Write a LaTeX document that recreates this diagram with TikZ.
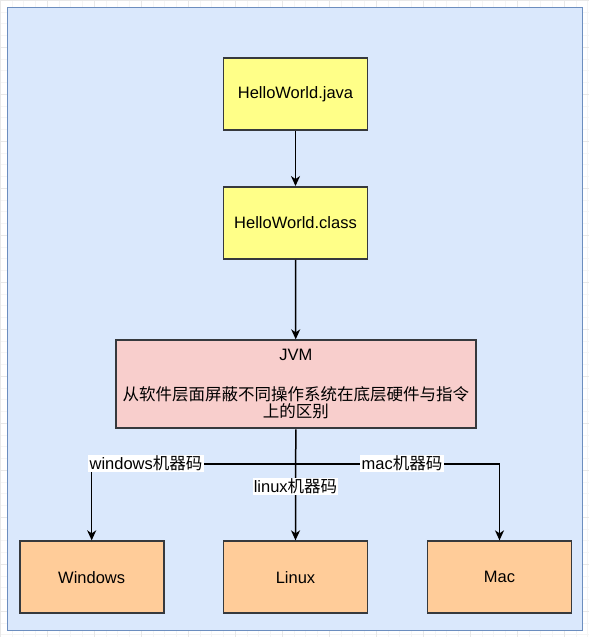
\documentclass[tikz,border=0pt]{standalone}
\usepackage{fontspec}
\setmainfont{Liberation Sans}
\newfontfamily\cjk{Noto Sans CJK SC}
\usetikzlibrary{arrows.meta}
\definecolor{contfill}{HTML}{DAE8FC}
\definecolor{contdraw}{HTML}{6C8EBF}
\definecolor{yellowfill}{HTML}{FFFF88}
\definecolor{pinkfill}{HTML}{F8CECC}
\definecolor{orangefill}{HTML}{FFCC99}
\definecolor{boxdraw}{HTML}{36393D}
\tikzset{
  box/.style={draw=boxdraw, line width=1.9pt, minimum width=144pt, minimum height=72pt, inner sep=2pt, align=center},
  yellowbox/.style={box, fill=yellowfill},
  pinkbox/.style={box, fill=pinkfill, minimum width=360pt, minimum height=88pt},
  orangebox/.style={box, fill=orangefill},
  arr/.style={draw=black, line width=1.5pt, -{Stealth[length=10pt,width=9pt,inset=3pt]}},
  lbl/.style={fill=white, inner sep=1.2pt},
  gridminor/.style={draw=black!4, line width=0.5pt},
  gridmajor/.style={draw=black!9, line width=0.6pt}
}
\begin{document}
\begin{tikzpicture}[x=1pt,y=-1pt, font=\fontsize{16.5}{17.6}\selectfont]
\useasboundingbox (0,0) rectangle (589,637);
\fill[white] (0,0) rectangle (589,637);
\draw[gridminor, step=11.75pt] (0,0) grid (589,637);
\draw[gridmajor, step=47pt] (0,0) grid (589,637);
\draw[draw=contdraw, fill=contfill, line width=1.5pt] (7.5,7.5) rectangle (582.5,630.5);

\node[yellowbox] (java) at (295.5,94) {HelloWorld.java};
\node[yellowbox] (class) at (295.5,223) {HelloWorld.class};
\node[pinkbox] (jvm) at (295.8,384.3) {JVM\\[22pt]{\cjk 从软件层面屏蔽不同操作系统在底层硬件与指令}\\{\cjk 上的区别}};
\node[orangebox] (windows) at (91.7,577.3) {Windows};
\node[orangebox] (linux) at (295.5,577.3) {Linux};
\node[orangebox] (mac) at (499.5,577.3) {Mac};

\draw[arr] (java) -- (class);
\draw[arr] (class) -- (jvm);
\coordinate (bus) at (295.5,464);
\draw[arr] (jvm.south) -- (linux.north);
\draw[arr] (bus) -| (windows.north);
\draw[arr] (bus) -| (mac.north);

\node[lbl] (lwin) at (146,463.5) {windows{\cjk 机器码}};
\node[lbl] (lmac) at (402,463.5) {mac{\cjk 机器码}};
\node[lbl] (llin) at (295.5,486.5) {linux{\cjk 机器码}};
\end{tikzpicture}
\end{document}
